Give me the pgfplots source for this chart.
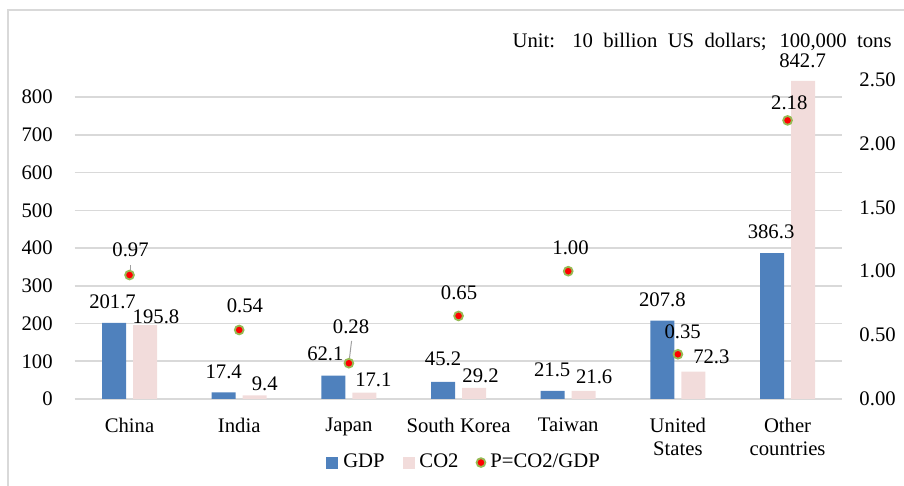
\documentclass[border=0pt]{standalone}
\usepackage{fontspec}
\setmainfont{Liberation Serif}
\usepackage{pgfplots}
\pgfplotsset{compat=1.18}
\usepackage{pgfplotstable}

\definecolor{gdpblue}{RGB}{79,129,189}
\definecolor{co2pink}{RGB}{242,220,219}
\definecolor{gridgray}{RGB}{217,217,217}
\definecolor{ringgreen}{RGB}{150,186,84}
\definecolor{leadergray}{RGB}{160,160,160}

% GDP and CO2 per region, with label offsets (pt) from each bar top
\pgfplotstableread{
x  gdp   gdx    gdy    co2    cdx    cdy
0  201.7 -0.75  10.5   195.8  5.5    4.25
1  17.4  0      10.5   9.4    5      6
2  62.1  -4     10.85  17.1   4.5    6.5
3  45.2  0      11.5   29.2   3.25   6
4  21.5  -0.25  10.5   21.6   5.25   7.25
5  207.8 0      10.5   72.3   9      7.5
6  386.3 -0.5   10.85  842.7  -0.25  10.25
}\bardata

% P = CO2/GDP, with label offsets (pt) from each marker
\pgfplotstableread{
x  p     dx    dy
0  0.97  0.5   12.4
1  0.54  2.85  12.25
2  0.28  1.1   18.4
3  0.65  0.25  11.5
4  1.00  1.15  11.6
5  0.35  2.4   11.5
6  2.18  0.85  8.75
}\ratiodata

\tikzset{ratio mark/.style={mark=*, mark size=2.2pt, line width=0.9pt,
    mark options={fill=red, draw=ringgreen}}}

\pgfplotsset{
  /pgf/number format/assume math mode=true,
  chartframe/.style={
    scale only axis,
    width=383.85pt, height=159.75pt,
    at={(37.35pt,43.5pt)}, anchor=south west,
    xmin=-0.5, xmax=6.5,
    axis line style={draw=none},
    major tick length=0pt,
    clip=false,
  },
  shifted labels/.style 2 args={
    point meta=y,
    nodes near coords align={anchor=center},
    visualization depends on={\thisrow{#1} \as \ldx},
    visualization depends on={\thisrow{#2} \as \ldy},
    every node near coord/.append style={xshift=\ldx pt, yshift=\ldy pt, text=black, inner sep=0pt},
  },
  barlabels/.style={draw=none, mark=none, forget plot,
    nodes near coords={\pgfmathprintnumber[fixed,fixed zerofill,precision=1]{\pgfplotspointmeta}}},
}

\begin{document}
\begin{tikzpicture}[font=\fontsize{10.35}{11.5}\selectfont]
\useasboundingbox (0,0) rectangle (452pt,243pt);
\draw[gridgray, line width=0.75pt] (4pt,0pt) -- (4pt,238pt) -- (452pt,238pt);

\node[anchor=base east, inner sep=0pt] at (446pt,219pt)
  {\makebox[189.5pt][s]{Unit: 10 billion US dollars; 100,000 tons}};

% Left axis: bars
\begin{axis}[
  chartframe,
  ymin=0, ymax=846.4,
  axis x line*=bottom, axis y line*=left,
  ytick={0,100,...,800},
  ymajorgrids, grid style={gridgray, line width=0.75pt},
  xtick={0,...,6},
  xticklabels={China,India,Japan,South Korea,Taiwan,United\\States,Other\\countries},
  xticklabel style={align=center, yshift=-6pt},
  yticklabel style={xshift=-7.5pt},
]
\addplot[ybar, bar width=0.219, bar shift=-0.1413, fill=gdpblue, draw=none]
  table[x=x, y=gdp] {\bardata};
\addplot[ybar, bar width=0.219, bar shift=0.1413, fill=co2pink, draw=none]
  table[x=x, y=co2] {\bardata};
% value labels above the bar tops
\addplot[barlabels, shifted labels={gdx}{gdy}]
  table[x expr=\thisrow{x}-0.1413, y=gdp] {\bardata};
\addplot[barlabels, shifted labels={cdx}{cdy}]
  table[x expr=\thisrow{x}+0.1413, y=co2] {\bardata};
\end{axis}

% Right axis: ratio markers
\begin{axis}[
  chartframe,
  ymin=0, ymax=2.5,
  axis x line=none, axis y line*=right,
  ytick={0,0.5,...,2.5},
  yticklabel style={/pgf/number format/fixed, /pgf/number format/fixed zerofill,
    /pgf/number format/precision=2, xshift=5pt},
  legend columns=3,
  legend style={at={(0.506,-0.199)}, anchor=center, draw=none, fill=none,
    inner sep=0pt, row sep=0pt,
    nodes={inner sep=0pt, anchor=west},
    /tikz/every odd column/.append style={column sep=2.5pt},
    /tikz/every even column/.append style={column sep=9pt}},
]
\addlegendimage{legend image code/.code={\fill[gdpblue] (0pt,-2.75pt) rectangle (5.5pt,2.75pt);}}
\addlegendentry{GDP}
\addlegendimage{legend image code/.code={\fill[co2pink] (0pt,-2.75pt) rectangle (5.5pt,2.75pt);}}
\addlegendentry{CO2}
\addlegendimage{legend image code/.code={\draw[ratio mark] plot coordinates {(2.75pt,0pt)};}}
\addlegendentry{P=CO2/GDP}

\draw[leadergray, line width=0.5pt]
  ([shift={(0.25pt,4.8pt)}]axis cs:0,0.97) -- ([shift={(0.25pt,2.6pt)}]axis cs:0,0.97);
\draw[leadergray, line width=0.5pt]
  ([shift={(1.35pt,11.15pt)}]axis cs:2,0.28) -- ([shift={(0.3pt,2.6pt)}]axis cs:2,0.28);

\addplot[only marks, ratio mark, forget plot,
  shifted labels={dx}{dy},
  nodes near coords={\pgfmathprintnumber[fixed,fixed zerofill,precision=2]{\pgfplotspointmeta}},
] table[x=x, y=p] {\ratiodata};
\end{axis}
\end{tikzpicture}
\end{document}
